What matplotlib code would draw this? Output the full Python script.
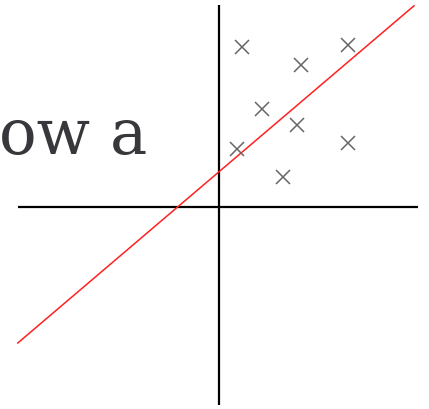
import matplotlib
matplotlib.use("Agg")
import matplotlib.pyplot as plt

# data (units: origin at axes crossing)
pts_x = [0.57, 3.22, 2.05, 1.07, 1.96, 0.46, 3.22, 1.61]
pts_y = [4.01, 4.05, 3.55, 2.45, 2.05, 1.45, 1.59, 0.76]
fit_x = [-5.03, 4.875]
fit_y = [-3.40, 5.03]
haxis_x = [-5.03, 4.98]
vaxis_y = [-4.95, 5.05]
caption = "ow a"

fig = plt.figure(figsize=(4.29, 4.09), dpi=100)
ax = fig.add_axes([0, 0, 1, 1])
ax.set_xlim(-5.475, 5.25)
ax.set_ylim(-5.05, 5.175)
ax.axis("off")

ax.plot(haxis_x, [0, 0], color="black", lw=1.6, solid_capstyle="butt")
ax.plot([0, 0], vaxis_y, color="black", lw=1.6, solid_capstyle="butt")
ax.plot(fit_x, fit_y, color="#ff2020", lw=1.1)
ax.plot(pts_x, pts_y, linestyle="none", marker="x", markersize=10,
        markeredgewidth=1.1, color="#666666")

ax.text(-1.8, 1.325, caption, ha="right", va="baseline",
        family="DejaVu Serif", fontsize=45, color="#38383c", zorder=5)

fig.savefig("out.png", dpi=100)
